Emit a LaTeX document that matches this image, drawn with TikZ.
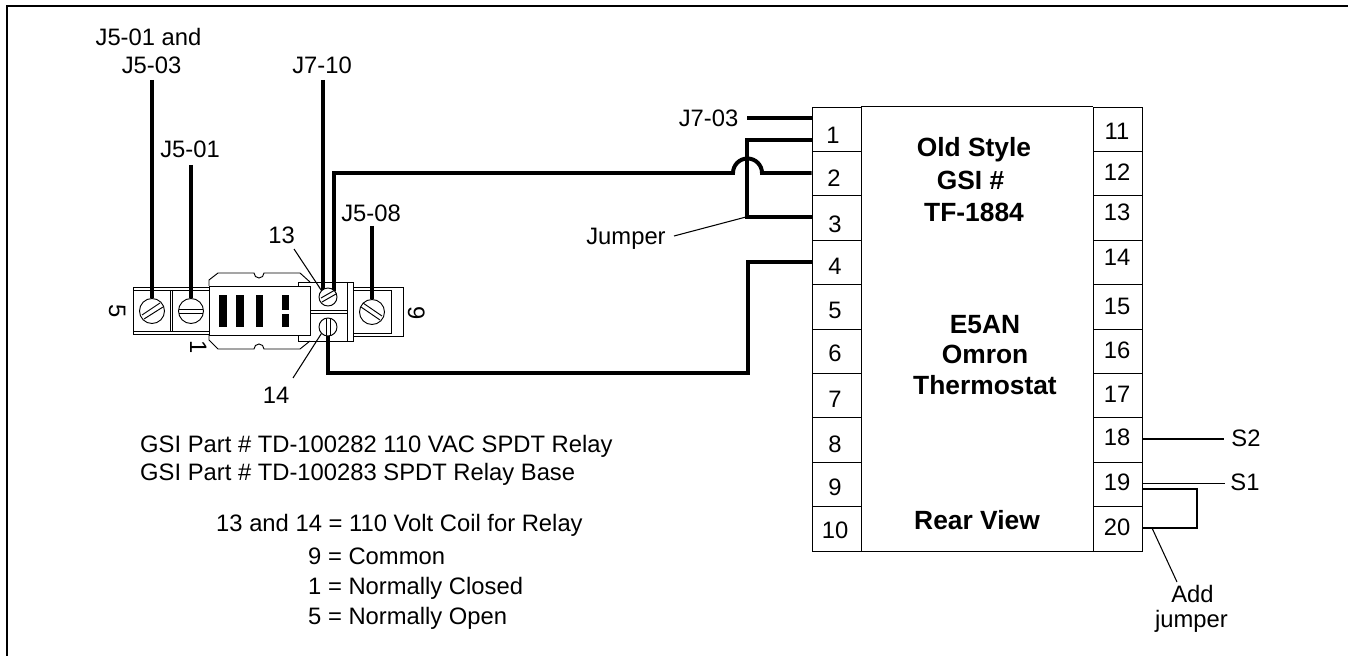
\documentclass[tikz,border=0pt]{standalone}
\usepackage{fontspec}
\setmainfont{Liberation Sans}
\tikzset{
    txt/.style={anchor=base, inner sep=0pt, align=center, font=\fontsize{20.3}{24}\selectfont},
    boldtxt/.style={txt, font=\fontsize{22.5}{26}\selectfont\bfseries},
    cell/.style={draw, line width=0.8pt, minimum width=1.47cm, minimum height=1.332cm, inner sep=0pt},
    wire/.style={line width=3.4pt, line join=miter},
    thin line/.style={line width=0.9pt},
    part/.style={line width=0.8pt},
    screw/.style={draw, circle, line width=0.8pt, inner sep=0pt, fill=white},
    bigscrew/.style={screw, minimum size=0.75cm},
    smallscrew/.style={screw, minimum size=0.54cm}
}
\begin{document}
\begin{tikzpicture}[x=0.03cm, y=-0.03cm]
            \useasboundingbox (0,0) rectangle (1348,656);
            \draw [line width=1.7pt] (7,656) -- (7,6) -- (1348,6);

            % Thermostat, left column of terminals
            \node [cell] (pin1) at (836.5,129.2) {};
            \node [cell] (pin2) at (836.5,173.6) {};
            \node [cell] (pin3) at (836.5,218) {};
            \node [cell] (pin4) at (836.5,262.4) {};
            \node [cell] (pin5) at (836.5,306.8) {};
            \node [cell] (pin6) at (836.5,351.2) {};
            \node [cell] (pin7) at (836.5,395.6) {};
            \node [cell] (pin8) at (836.5,440) {};
            \node [cell] (pin9) at (836.5,484.4) {};
            \node [cell] (pin10) at (836.5,528.8) {};

            % Right column of terminals
            \node [cell] (pin11) at (1117.5,129.2) {};
            \node [cell] (pin12) at (1117.5,173.6) {};
            \node [cell] (pin13) at (1117.5,218) {};
            \node [cell] (pin14) at (1117.5,262.4) {};
            \node [cell] (pin15) at (1117.5,306.8) {};
            \node [cell] (pin16) at (1117.5,351.2) {};
            \node [cell] (pin17) at (1117.5,395.6) {};
            \node [cell] (pin18) at (1117.5,440) {};
            \node [cell] (pin19) at (1117.5,484.4) {};
            \node [cell] (pin20) at (1117.5,528.8) {};

            % Body between the columns
            \draw [part] (pin1.north east) -- (pin11.north west);
            \draw [part] (pin10.south east) -- (pin20.south west);

            % Terminal numbers
            \node [txt] (num1) at (833,144) {1};
            \node [txt] (num2) at (834,187) {2};
            \node [txt] (num3) at (835,233) {3};
            \node [txt] (num4) at (835,275) {4};
            \node [txt] (num5) at (835,319) {5};
            \node [txt] (num6) at (835,361) {6};
            \node [txt] (num7) at (835,407) {7};
            \node [txt] (num8) at (835,452) {8};
            \node [txt] (num9) at (835,495) {9};
            \node [txt] (num10) at (835,538) {10};
            \node [txt] (num11) at (1117,140) {11};
            \node [txt] (num12) at (1117,181) {12};
            \node [txt] (num13) at (1117,221) {13};
            \node [txt] (num14) at (1117,266) {14};
            \node [txt] (num15) at (1117,314) {15};
            \node [txt] (num16) at (1117,358) {16};
            \node [txt] (num17) at (1117,402) {17};
            \node [txt] (num18) at (1117,445) {18};
            \node [txt] (num19) at (1117,490) {19};
            \node [txt] (num20) at (1117,535) {20};

            % Thermostat captions
            \node [boldtxt] (old) at (974,157) {Old Style};
            \node [boldtxt] (gsi) at (970.5,190) {GSI \#};
            \node [boldtxt] (tf) at (974,222) {TF-1884};
            \node [boldtxt] (e5an) at (985,333) {E5AN};
            \node [boldtxt] (omron) at (985,363) {Omron};
            \node [boldtxt] (thermo) at (985,394) {Thermostat};
            \node [boldtxt] (rear) at (977,529) {Rear View};

            % Relay, left tab with screws 5 and 1
            \draw [part] (209,287) -- (133,287) -- (133,334) -- (209,334);
            \draw [part] (209,290) -- (133.5,290);
            \draw [part] (209,331) -- (133.5,331);
            \draw [part] (170,290) -- (170,331);
            \draw [part] (172,290) -- (172,331);

            % Relay, right tab
            \draw [part] (353,287) -- (403,287) -- (403,336) -- (353,336);
            \draw [part] (353,290) -- (391,290) -- (391,333) -- (353,333);

            % Relay, cover
            \draw [part] (209,286) -- (209,280) -- (218,273) -- (254,273) arc (180:0:5) -- (300,273) -- (310,282);
            \draw [part] (209,335) -- (209,340) -- (218,349) -- (254,349) arc (180:360:5) -- (300,349) -- (310,341);
            \draw [part] (209,286) rectangle (310,335);
            \fill (219,295) rectangle (227,327);
            \fill (236,295) rectangle (244,327);
            \fill (256,295) rectangle (263,327);
            \fill (282,295) rectangle (289,310);
            \fill (282,314) rectangle (289,327);

            % Relay, coil block
            \draw [part] (310,282) -- (298,282) -- (298,286);
            \draw [part] (298,335) -- (298,341) -- (353,341) -- (353,282) -- (310,282);
            \draw [part] (347,282) -- (347,341);
            \draw [part] (310,310) -- (347,310);
            \draw [part] (310,313) -- (347,313);

            % Wires down to the relay
            \node [txt] (j5a) at (148.5,46) {J5-01 and};
            \node [txt] (j5b) at (151.5,74) {J5-03};
            \node [txt] (j5c) at (190,158) {J5-01};
            \node [txt] (j7a) at (322,74) {J7-10};
            \node [txt] (j5d) at (371,222) {J5-08};
            \node [txt] (j7b) at (708.5,127) {J7-03};

            \coordinate (top5) at (152,80);
            \coordinate (top1) at (191,165);
            \coordinate (top13) at (323,80);
            \coordinate (top9) at (372,226);

            \node [bigscrew] (screw5) at (152,311) {};
            \node [bigscrew] (screw1) at (191,311) {};
            \node [bigscrew] (screw9) at (372,312) {};
            \draw [wire] (top5) -- (screw5.north);
            \draw [wire] (top1) -- (screw1.north);
            \draw [wire] (top9) -- (screw9.north);

            \coordinate (wire13) at (334,291);
            \coordinate (wire14) at (328,335);
            \draw [wire] (top13) -- (323,291);
            \coordinate (hump1) at (733,173);
            \coordinate (in1) at (811.5,140);
            \coordinate (in2) at (811.5,173);
            \coordinate (in3) at (811.5,217);
            \coordinate (in4) at (811.5,262);
            \draw [wire] (wire13) -- (334,173) -- (hump1) arc (180:360:14.5) -- (in2);
            \draw [wire] (wire14) -- (328,373) -- (748,373) -- (748,262) -- (in4);
            \draw [wire] (in1) -- (747,140) -- (747,217) -- (in3);
            \coordinate (in0) at (811.5,118);
            \draw [wire] (747,118) -- (in0);

            \node [smallscrew] (screw13) at (328,297) {};
            \node [smallscrew] (screw14) at (328,327) {};

            % Screw slots
            \draw [part] (142,315) -- (160,303);
            \draw [part] (144,319) -- (163,307);
            \draw [part] (179,309) -- (203,309);
            \draw [part] (179,313) -- (203,313);
            \draw [part] (363,303) -- (382,316);
            \draw [part] (361,307) -- (380,320);
            \draw [part] (321,298) -- (335,290);
            \draw [part] (322,302) -- (336,294);
            \draw [part] (326,319) -- (326,335);
            \draw [part] (330,319) -- (330,335);

            % Relay numbers
            \node [txt, rotate=-90] (rel5) at (109,311) {5};
            \node [txt, rotate=-90] (rel1) at (190,347) {1};
            \node [txt, rotate=-90] (rel9) at (408,313) {9};

            % Leaders and terminal labels
            \node [txt] (lab13) at (281.5,244) {13};
            \node [txt] (lab14) at (276,403) {14};
            \coordinate (lead13) at (294,249);
            \coordinate (lead14) at (293,378);
            \draw [thin line] (lead13) -- (screw13.north west);
            \draw [thin line] (lead14) -- (screw14.south west);

            \node [txt] (jump) at (626,245) {Jumper};
            \coordinate (lead3) at (674,236);
            \draw [thin line] (lead3) -- (746,217);

            \node [txt] (s2) at (1246,446) {S2};
            \node [txt] (s1) at (1245,490) {S1};
            \coordinate (out18) at (1224,439);
            \coordinate (out19) at (1225,483.5);
            \draw [thin line] (pin18.east |- out18) -- (out18);
            \draw [thin line] (pin19.east |- out19) -- (out19);
            \coordinate (loop1) at (1142,489);
            \coordinate (loop2) at (1142,528);
            \draw [thin line] (loop1) -- (1197,489) -- (1197,528) -- (loop2);

            \node [txt] (add1) at (1192.5,602) {Add};
            \node [txt] (add2) at (1191.5,627) {jumper};
            \coordinate (lead20) at (1152,528);
            \coordinate (leadadd) at (1177,582);
            \draw [thin line] (lead20) -- (leadadd);

            % Notes
            \node [txt, anchor=base west] (note1) at (140,452) {GSI Part \# TD-100282 110 VAC SPDT Relay};
            \node [txt, anchor=base west] (note2) at (140,480) {GSI Part \# TD-100283 SPDT Relay Base};
            \node [txt, anchor=base west] (note3) at (216,531) {13 and 14 = 110 Volt Coil for Relay};
            \node [txt, anchor=base west] (note4) at (308,564) {9 = Common};
            \node [txt, anchor=base west] (note5) at (308,594) {1 = Normally Closed};
            \node [txt, anchor=base west] (note6) at (308,624) {5 = Normally Open};
\end{tikzpicture}
\end{document}
